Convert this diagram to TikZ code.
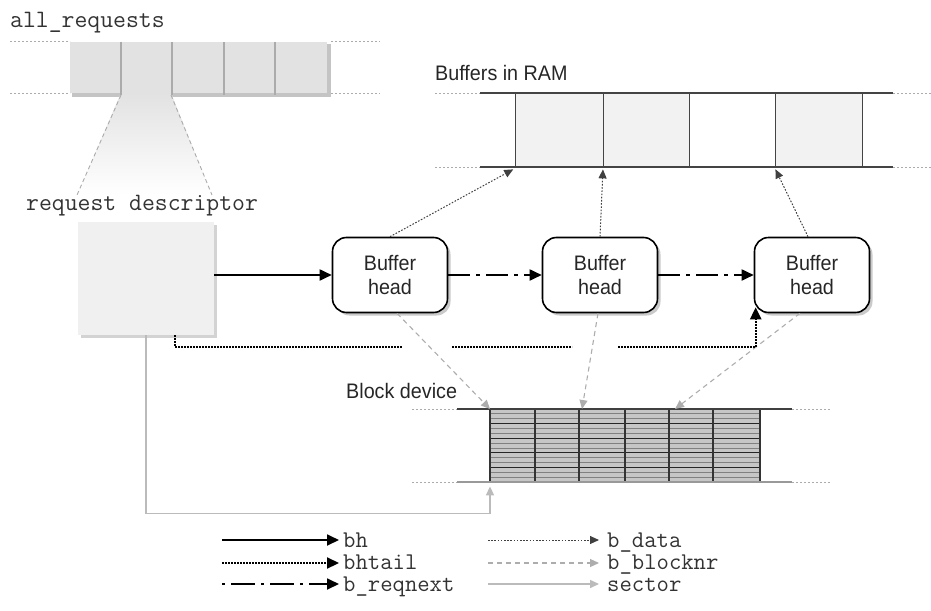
\documentclass[tikz,border=0pt]{standalone}
\usepackage{fontspec}
\setmainfont[FakeStretch=0.94]{Liberation Sans}
\usetikzlibrary{arrows.meta,shadows,calc}
\definecolor{cellgray}{HTML}{E2E2E2}
\definecolor{sepgray}{HTML}{ABABAB}
\definecolor{shgray}{HTML}{C4C4C4}
\definecolor{boxgray}{HTML}{F0F0F0}
\definecolor{ramfill}{HTML}{F2F2F2}
\definecolor{linegray}{HTML}{444444}
\definecolor{arrgray}{HTML}{ADADAD}
\definecolor{secgray}{HTML}{BBBBBB}
\definecolor{stripefill}{HTML}{C6C6C6}
\begin{document}
\begin{tikzpicture}[x=1pt,y=-1pt,
  sanstext/.style={font=\fontsize{21}{24}\selectfont, inner sep=0pt, text=black!85},
  monotext/.style={font=\ttfamily\fontsize{25}{26}\selectfont, inner sep=0pt, text=black!80},
  legtext/.style={font=\ttfamily\fontsize{24}{26}\selectfont, inner sep=0pt, text=black!80,
     text height=13pt, text depth=2pt, anchor=base west},
  bufhead/.style={draw=black, line width=1.6pt, rounded corners=14pt, fill=white,
     minimum width=115pt, minimum height=75pt, align=center, inner sep=0pt,
     font=\fontsize{21}{24}\selectfont, text=black!85,
     drop shadow={shadow xshift=3pt, shadow yshift=-3pt, opacity=0.35, fill=black!60}},
  ramcell/.style={draw=linegray, line width=1.4pt, minimum width=#1, minimum height=74pt, inner sep=0pt, anchor=north west},
  bharrow/.style={line width=1.8pt, -{Triangle[length=12pt,width=11pt]}},
  tailarrow/.style={line width=2.2pt, dash pattern=on 1.6pt off 1.4pt, -{Triangle[length=12pt,width=11pt]}},
  nextarrow/.style={line width=1.8pt, dash pattern=on 22pt off 6pt on 4pt off 6pt, -{Triangle[length=12pt,width=11pt]}},
  legnext/.style={line width=1.8pt, dash pattern=on 3pt off 6pt on 24pt off 6pt, -{Triangle[length=12pt,width=11pt]}},
  dataarrow/.style={draw=black!75, line width=1pt, dash pattern=on 1.6pt off 1.6pt, -{Triangle[length=9pt,width=8pt]}},
  blockarrow/.style={draw=arrgray, line width=1.1pt, dash pattern=on 5pt off 4pt, -{Triangle[length=9pt,width=8pt]}},
  secarrow/.style={draw=secgray, line width=1.5pt, -{Triangle[length=9pt,width=8pt]}},
  dotext/.style={draw=sepgray, line width=1pt, dash pattern=on 2pt off 2pt},
]
\useasboundingbox (0,0) rectangle (931,610);

% ---------- all_requests ----------
\node[monotext, anchor=base west] (allreq) at (10,28) {all\_requests};
\fill[shgray] (72,44) rectangle (331,97);
\fill[cellgray] (70,42) rectangle (327,93);
\shade[top color=cellgray, bottom color=white] (121,93) -- (171,93) -- (212,195) -- (77,195) -- cycle;
\foreach \x in {121,172,224,275} \draw[sepgray, line width=2pt] (\x,42) -- (\x,95);
\draw[sepgray, dash pattern=on 4pt off 3pt, line width=0.9pt] (121,95) -- (77,195) (171,95) -- (212,195);
\draw[dotext] (10,42) -- (70,42) (10,93) -- (70,93) (331,42) -- (380,42) (331,93) -- (380,93);

% ---------- request descriptor ----------
\node[monotext, anchor=base west] (rdlabel) at (26,210) {request descriptor};
\node[fill=boxgray, minimum width=136pt, minimum height=113pt, inner sep=0pt,
      drop shadow={shadow xshift=3pt, shadow yshift=-3pt, opacity=0.35, fill=black!50}] (rd) at (146,278.5) {};

% ---------- buffer heads ----------
\node[bufhead] (bh1) at (390,275) {Buffer\\head};
\node[bufhead] (bh2) at (600,275) {Buffer\\head};
\node[bufhead] (bh3) at (812,275) {Buffer\\head};

% ---------- buffers in RAM ----------
\node[sanstext, anchor=base west] (ramlabel) at (435,81) {Buffers in RAM};
\node[ramcell=88pt, fill=ramfill] (ram1) at (515,93) {};
\node[ramcell=86pt, fill=ramfill] (ram2) at (603,93) {};
\node[ramcell=86pt, fill=white] (ram3) at (689,93) {};
\node[ramcell=87pt, fill=ramfill] (ram4) at (775,93) {};
\draw[linegray, line width=1.6pt] (480,93) -- (893,93) (480,167) -- (893,167);
\draw[dotext] (435,93) -- (480,93) (893,93) -- (931,93) (435,167) -- (480,167) (893,167) -- (931,167);

% ---------- block device ----------
\node[sanstext, anchor=base west] (blocklabel) at (346,398) {Block device};
\node[minimum width=270pt, minimum height=73pt, inner sep=0pt, anchor=north west, fill=stripefill] (block) at (490,409) {};
\foreach \k in {1,...,14} \draw[black!50, line width=0.8pt] (490,{409+\k*4.87}) -- (760,{409+\k*4.87});
\foreach \k in {3,6,9,12} \draw[black!85, line width=1.2pt] (490,{409+\k*4.87}) -- (760,{409+\k*4.87});
\foreach \x in {490,535,579,625,669,713,760} \draw[black!80, line width=1.3pt] (\x,409) -- (\x,482);
\draw[black!75, line width=1.6pt] (457,409) -- (792,409);
\draw[black!40, line width=2pt] (457,482) -- (792,482);
\draw[dotext] (412,409) -- (457,409) (792,409) -- (830,409) (412,482) -- (457,482) (792,482) -- (830,482);

% ---------- connectors ----------
\draw[bharrow] (rd.east |- bh1.west) -- (bh1.west);
\draw[nextarrow] (bh1.east) -- (bh2.west);
\draw[nextarrow] (bh2.east) -- (bh3.west);

\draw[dataarrow, shorten >=2pt] (bh1.north) -- (ram1.south west);
\draw[dataarrow, shorten >=1pt] (bh2.north) -- (ram2.south west);
\draw[dataarrow, shorten >=1pt] ($(bh3.north)+(-4,0)$) -- (ram4.south west);

\draw[blockarrow] ($(bh1.south)+(7,0)$) -- (block.north west);
\draw[blockarrow] ($(bh2.south)+(-2,0)$) -- ($(block.north west)+(92,0)$);
\draw[blockarrow] ($(bh3.south)+(-12,0)$) -- ($(block.north west)+(185,0)$);

\draw[tailarrow] ($(rd.south)+(29,0)$) |- (403,347) (452,347) -- (572,347) (618,347) -| ($(bh3.south west)+(2,-6)$);

\draw[secarrow] (rd.south) |- ($(block.south west)+(0,31)$) -- ($(block.south west)+(0,4)$);

% ---------- legend ----------
\coordinate (l1) at (222,540);
\coordinate (l2) at (222,563);
\coordinate (l3) at (222,584);
\coordinate (r1) at (488,540);
\coordinate (r2) at (488,563);
\coordinate (r3) at (488,584);
\node[legtext] (t1) at (343,547) {bh};
\node[legtext] (t2) at (343,569) {bhtail};
\node[legtext] (t3) at (343,591) {b\_reqnext};
\node[legtext] (t4) at (607,547) {b\_data};
\node[legtext] (t5) at (607,569) {b\_blocknr};
\node[legtext] (t6) at (607,591) {sector};
\draw[bharrow, shorten >=4pt] (l1) -- (t1.west |- l1);
\draw[tailarrow, shorten >=4pt] (l2) -- (t2.west |- l2);
\draw[legnext, shorten >=4pt] (l3) -- (t3.west |- l3);
\draw[dataarrow, shorten >=8pt] (r1) -- (t4.west |- r1);
\draw[blockarrow, shorten >=8pt] (r2) -- (t5.west |- r2);
\draw[secarrow, shorten >=8pt] (r3) -- (t6.west |- r3);
\end{tikzpicture}
\end{document}
